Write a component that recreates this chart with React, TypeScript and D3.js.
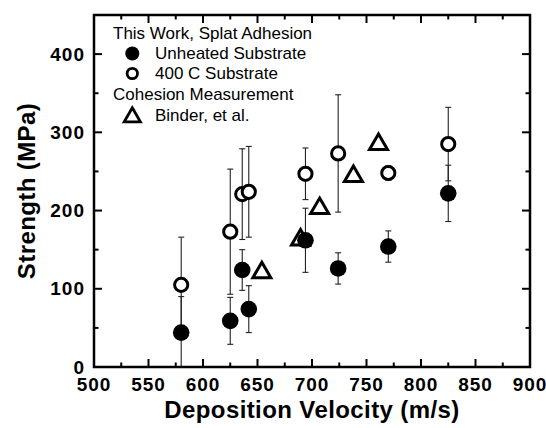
import React from "react";
import * as d3 from "d3";

// ---- data ----
const unheatedVelocity = [580, 625, 636, 642, 694, 724, 770, 825];
const unheatedStrength = [44, 59, 124, 74, 162, 126, 154, 222];
const unheatedError = [46, 30, 26, 30, 41, 20, 20, 36];

const heatedVelocity = [580, 625, 636, 642, 694, 724, 770, 825];
const heatedStrength = [105, 173, 221, 224, 247, 273, 248, 285];
const heatedError = [61, 80, 58, 58, 33, 75, 9, 47];

const binderVelocity = [654, 689.5, 707, 738, 761];
const binderStrength = [123, 165, 205, 246, 287];

const xMajorTicks = [500, 550, 600, 650, 700, 750, 800, 850, 900];
const xMinorTicks = [525, 575, 625, 675, 725, 775, 825, 875];
const yMajorTicks = [0, 100, 200, 300, 400];
const yMinorTicks = [50, 150, 250, 350];

const legendHeader1 = "This Work, Splat Adhesion";
const legendHeader2 = "Cohesion Measurement";
const legendUnheated = "Unheated Substrate";
const legendHeated = "400 C Substrate";
const legendBinder = "Binder, et al.";

const xTitle = "Deposition Velocity (m/s)";
const yTitle = "Strength (MPa)";

// ---- layout ----
const W = 546;
const H = 428;
const L = 94;
const R = 530;
const T = 15;
const B = 367;
const FONT = "'Liberation Sans', Arial, Helvetica, sans-serif";

const x = d3.scaleLinear().domain([500, 900]).range([L, R]);
const y = d3.scaleLinear().domain([0, 450]).range([B, T]);

function triPath(cx: number, cy: number, s: number) {
  const w = 9 * s;
  const h = 15.5 * s;
  return `M${cx},${cy - h * 0.55}L${cx + w},${cy + h * 0.45}L${cx - w},${cy + h * 0.45}Z`;
}

function ErrorBar({ v, s, e }: { v: number; s: number; e: number }) {
  const cx = x(v);
  const lo = Math.max(0, s - e);
  const hi = s + e;
  const yLo = y(lo);
  const yHi = y(hi);
  return (
    <g stroke="#222" strokeWidth={1.1}>
      <line x1={cx} x2={cx} y1={yLo} y2={yHi} />
      <line x1={cx - 3} x2={cx + 3} y1={yHi} y2={yHi} />
      {lo > 0 && <line x1={cx - 3} x2={cx + 3} y1={yLo} y2={yLo} />}
    </g>
  );
}

export default function App() {
  return (
    <svg
      width={W}
      height={H}
      style={{ position: "absolute", left: 0, top: 0, background: "#fff" }}
      fontFamily={FONT}
    >
      <rect x={0} y={0} width={W} height={H} fill="#fff" />
      <defs>
        <clipPath id="plot">
          <rect x={L} y={T} width={R - L} height={B - T} />
        </clipPath>
      </defs>

      {/* error bars */}
      <g clipPath="url(#plot)">
        {heatedVelocity.map((v, i) => (
          <ErrorBar key={"he" + i} v={v} s={heatedStrength[i]} e={heatedError[i]} />
        ))}
        {unheatedVelocity.map((v, i) => (
          <ErrorBar key={"ue" + i} v={v} s={unheatedStrength[i]} e={unheatedError[i]} />
        ))}
      </g>

      {/* open circles */}
      {heatedVelocity.map((v, i) => (
        <circle
          key={"h" + i}
          cx={x(v)}
          cy={y(heatedStrength[i])}
          r={6.6}
          fill="#fff"
          stroke="#000"
          strokeWidth={3}
        />
      ))}

      {/* triangles */}
      {binderVelocity.map((v, i) => (
        <path
          key={"b" + i}
          d={triPath(x(v), y(binderStrength[i]), 1)}
          fill="#fff"
          stroke="#000"
          strokeWidth={3}
          strokeLinejoin="miter"
        />
      ))}

      {/* filled circles */}
      {unheatedVelocity.map((v, i) => (
        <circle key={"u" + i} cx={x(v)} cy={y(unheatedStrength[i])} r={8.3} fill="#000" />
      ))}

      {/* axes frame */}
      <rect x={L} y={T} width={R - L} height={B - T} fill="none" stroke="#000" strokeWidth={2.5} />

      {/* x ticks */}
      {xMajorTicks.map((t) => (
        <g key={"xm" + t} stroke="#000" strokeWidth={2}>
          <line x1={x(t)} x2={x(t)} y1={B} y2={B - 8} />
          <line x1={x(t)} x2={x(t)} y1={T} y2={T + 8} />
        </g>
      ))}
      {xMinorTicks.map((t) => (
        <g key={"xn" + t} stroke="#000" strokeWidth={2}>
          <line x1={x(t)} x2={x(t)} y1={B} y2={B - 4.5} />
          <line x1={x(t)} x2={x(t)} y1={T} y2={T + 4.5} />
        </g>
      ))}
      {/* y ticks */}
      {yMajorTicks.map((t) => (
        <g key={"ym" + t} stroke="#000" strokeWidth={2}>
          <line x1={L} x2={L + 8} y1={y(t)} y2={y(t)} />
          <line x1={R} x2={R - 8} y1={y(t)} y2={y(t)} />
        </g>
      ))}
      {yMinorTicks.map((t) => (
        <g key={"yn" + t} stroke="#000" strokeWidth={2}>
          <line x1={L} x2={L + 4.5} y1={y(t)} y2={y(t)} />
          <line x1={R} x2={R - 4.5} y1={y(t)} y2={y(t)} />
        </g>
      ))}

      {/* tick labels */}
      {xMajorTicks.map((t) => (
        <text
          key={"xl" + t}
          x={x(t)}
          y={391}
          textAnchor="middle"
          fontSize={19}
          fontWeight="bold"
          letterSpacing={1}
        >
          {t}
        </text>
      ))}
      {yMajorTicks.map((t) => (
        <text
          key={"yl" + t}
          x={85}
          y={y(t) + 6.6}
          textAnchor="end"
          fontSize={19}
          fontWeight="bold"
          letterSpacing={1}
        >
          {t}
        </text>
      ))}

      {/* axis titles */}
      <text x={(L + R) / 2} y={418} textAnchor="middle" fontSize={24} fontWeight="bold" letterSpacing={0.4}>
        {xTitle}
      </text>
      <text
        transform={`translate(35, ${(T + B) / 2}) rotate(-90)`}
        textAnchor="middle"
        fontSize={24}
        fontWeight="bold"
        letterSpacing={0.4}
      >
        {yTitle}
      </text>

      {/* legend */}
      <g fontSize={17}>
        <text x={113} y={39.3}>{legendHeader1}</text>
        <circle cx={132.3} cy={53.5} r={7} fill="#000" />
        <text x={155} y={59.3}>{legendUnheated}</text>
        <circle cx={132.3} cy={73.5} r={5.2} fill="#fff" stroke="#000" strokeWidth={2.8} />
        <text x={155} y={79}>{legendHeated}</text>
        <text x={113} y={100}>{legendHeader2}</text>
        <path d={triPath(132.3, 115.5, 0.9)} fill="#fff" stroke="#000" strokeWidth={2.8} />
        <text x={155} y={120.7}>{legendBinder}</text>
      </g>
    </svg>
  );
}
